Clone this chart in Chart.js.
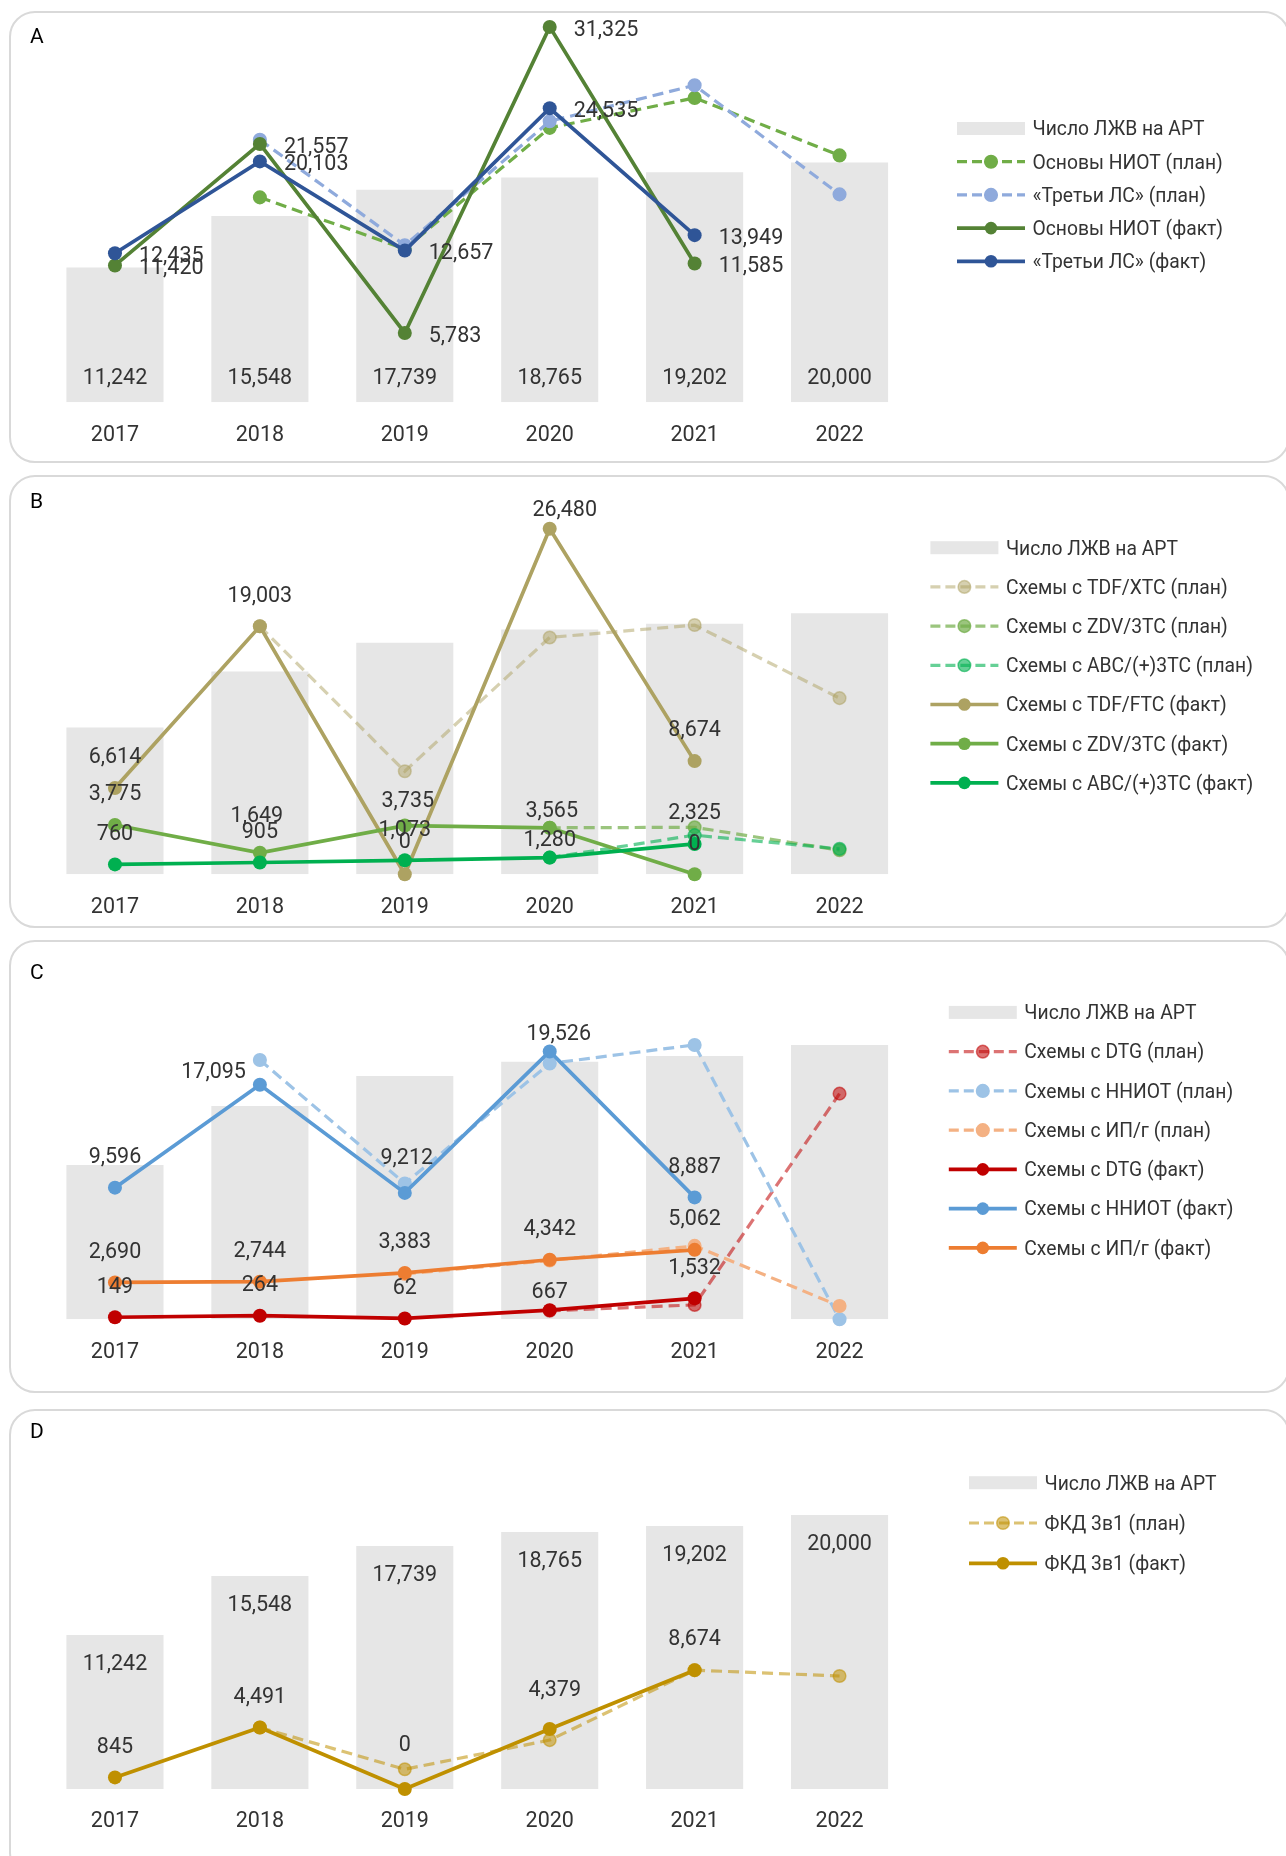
<!DOCTYPE html>
<html lang="ru">
<head>
<meta charset="utf-8">
<title>Число ЛЖВ на АРТ и схемы терапии, 2017–2022</title>
<script src="https://cdn.jsdelivr.net/npm/chart.js@4.4.1/dist/chart.umd.min.js"></script>
<style>
  html, body { margin: 0; padding: 0; background: #fff; width: 1286px; height: 1856px; overflow: hidden; }
  .panel { position: absolute; left: 9px; width: 1281px; border: 2px solid #D9D9D9; border-radius: 26px; box-sizing: border-box; background: #fff; }
  .tag { position: absolute; left: 30px; font: 21px Roboto, sans-serif; line-height: 21px; color: #000; }
  canvas { position: absolute; left: 0; }
</style>
</head>
<body>
<div class="panel" style="top:11px;height:452px"></div>
<div class="panel" style="top:475px;height:453px"></div>
<div class="panel" style="top:940px;height:453px"></div>
<div class="panel" style="top:1409px;height:470px"></div>
<canvas id="chartA"></canvas>
<canvas id="chartB"></canvas>
<canvas id="chartC"></canvas>
<canvas id="chartD"></canvas>
<div class="tag" style="top:26px">A</div>
<div class="tag" style="top:491px">B</div>
<div class="tag" style="top:962px">C</div>
<div class="tag" style="top:1421px">D</div>

<script>
// ---- data ----
const years = ['2017', '2018', '2019', '2020', '2021', '2022'];
const artPatients = [11242, 15548, 17739, 18765, 19202, 20000];

// A: base NRTI backbone and third drug
const niotPlan  = [null, 17100, 12800, 22900, 25400, 20600];
const thirdPlan = [null, 21900, 13100, 23450, 26450, 17350];
const niotFact  = [11420, 21557, 5783, 31325, 11585, null];
const thirdFact = [12435, 20103, 12657, 24535, 13949, null];

// B: backbone combinations
const tdfXtcPlan = [null, 19003, 7900, 18150, 19100, 13500];
const zdvPlan    = [null, null, null, 3565, 3600, 1850];
const abcPlan    = [null, null, null, 1280, 3000, 1950];
const tdfFtcFact = [6614, 19003, 0, 26480, 8674, null];
const zdvFact    = [3775, 1649, 3735, 3565, 0, null];
const abcFact    = [760, 905, 1073, 1280, 2325, null];

// C: third-drug classes
const dtgPlan   = [null, null, null, 620, 1050, 16450];
const nniotPlan = [null, 18900, 9900, 18650, 20000, 0];
const ipgPlan   = [null, null, 3300, 4290, 5350, 970];
const dtgFact   = [149, 264, 62, 667, 1532, null];
const nniotFact = [9596, 17095, 9212, 19526, 8887, null];
const ipgFact   = [2690, 2744, 3383, 4342, 5062, null];

// D: fixed-dose 3-in-1
const fkdPlan = [null, 4491, 1440, 3570, 8674, 8250];
const fkdFact = [845, 4491, 0, 4379, 8674, null];

// ---- styling helpers ----
const TEXT = '#333333';
const FONT = 'Roboto, "Noto Sans", sans-serif';
const LABEL_SIZE = 21.5;
const TEXT_SHIFT = 2;   // visual centring of digits with 'middle' baseline

function barSet(values) {
  return {
    type: 'bar', label: 'Число ЛЖВ на АРТ', data: values,
    backgroundColor: '#E6E6E6', borderWidth: 0,
    categoryPercentage: 0.67, barPercentage: 1, order: 1000
  };
}

function lineSet(values, label, color, plan, index, valueLabels) {
  return {
    type: 'line', label, data: values,
    borderColor: color, backgroundColor: color,
    borderWidth: plan ? 3.2 : 3.7,
    borderDash: plan ? [11, 6] : [],
    pointRadius: plan ? 6.3 : 7, pointHoverRadius: plan ? 6.3 : 7,
    pointBackgroundColor: color, pointBorderColor: color,
    pointBorderWidth: plan ? 1.5 : 0,
    tension: 0, spanGaps: false, clip: false,
    order: 100 - index,
    valueLabels
  };
}

// numbers next to the marks
const valueLabels = {
  id: 'valueLabels',
  afterDatasetsDraw(chart) {
    const ctx = chart.ctx;
    ctx.save();
    ctx.font = LABEL_SIZE + 'px ' + FONT;
    ctx.fillStyle = TEXT;
    ctx.textBaseline = 'middle';
    chart.data.datasets.forEach((ds, i) => {
      const spec = ds.valueLabels;
      if (!spec) return;
      chart.getDatasetMeta(i).data.forEach((el, j) => {
        const v = ds.data[j];
        if (v === null || v === undefined) return;
        const p = Object.assign({}, spec, spec.at && spec.at[j]);
        let x = el.x, y = el.y, align = 'center';
        if (p.pos === 'base') y = el.base - p.dist;
        else if (p.pos === 'end') y = el.y + p.dist;
        else if (p.pos === 'right') { x += p.dist; align = 'left'; }
        else if (p.pos === 'left') { x -= p.dist; align = 'right'; }
        else y -= p.dist;
        x += p.dx || 0;
        y += (p.dy || 0) + TEXT_SHIFT;
        ctx.textAlign = align;
        ctx.fillText(v.toLocaleString('en-US'), x, y);
      });
    });
    ctx.restore();
  }
};

// legend column on the right
const sideLegend = {
  id: 'sideLegend',
  afterDraw(chart, args, opts) {
    const ctx = chart.ctx;
    const sample = 68;
    ctx.save();
    ctx.textBaseline = 'middle';
    ctx.textAlign = 'left';
    chart.data.datasets.forEach((ds, i) => {
      const y = opts.y + i * opts.gap;
      const x0 = opts.x, x1 = opts.x + sample;
      if (ds.type === 'bar') {
        ctx.fillStyle = ds.backgroundColor;
        ctx.fillRect(x0, y - 6.5, sample, 13);
      } else {
        ctx.strokeStyle = ds.borderColor;
        ctx.lineWidth = ds.borderWidth;
        ctx.setLineDash(ds.borderDash.length ? [10, 5] : []);
        ctx.beginPath();
        ctx.moveTo(x0, y);
        ctx.lineTo(x1, y);
        ctx.stroke();
        ctx.setLineDash([]);
        ctx.beginPath();
        ctx.arc((x0 + x1) / 2, y, 6.3, 0, Math.PI * 2);
        ctx.fillStyle = ds.pointBackgroundColor;
        ctx.fill();
        if (ds.pointBorderWidth) {
          ctx.lineWidth = ds.pointBorderWidth;
          ctx.strokeStyle = ds.pointBorderColor;
          ctx.stroke();
        }
      }
      ctx.font = opts.fontSize + 'px ' + FONT;
      ctx.fillStyle = TEXT;
      ctx.fillText(ds.label, x1 + 7.5, y + TEXT_SHIFT);
    });
    ctx.restore();
  }
};

function panelChart(id, g, datasets) {
  const canvas = document.getElementById(id);
  canvas.width = 1286;
  canvas.height = g.height;
  canvas.style.top = g.top + 'px';
  const axisHeight = g.top + g.height - g.areaBottom;
  return new Chart(canvas, {
    data: { labels: years, datasets },
    plugins: [valueLabels, sideLegend],
    options: {
      responsive: false,
      animation: false,
      events: [],
      layout: { padding: { left: 42.5, right: 374, top: g.areaTop - g.top, bottom: 0 } },
      scales: {
        x: {
          grid: { display: false, drawTicks: false },
          border: { display: false },
          ticks: { color: TEXT, font: { family: FONT, size: LABEL_SIZE }, padding: 18.2 + TEXT_SHIFT, maxRotation: 0 },
          afterFit(scale) { scale.height = axisHeight; }
        },
        y: { display: false, min: 0, max: g.yMax }
      },
      plugins: {
        legend: { display: false },
        tooltip: { enabled: false },
        sideLegend: { x: g.legendX, y: g.legendY - g.top, gap: g.legendGap, fontSize: 19.3 }
      }
    }
  });
}

function build() {
  // A
  panelChart('chartA',
    { top: 11, height: 452, areaTop: 18.3, areaBottom: 402.3, yMax: 32000, legendX: 957, legendY: 128.5, legendGap: 33.2 },
    [
      Object.assign(barSet(artPatients), { valueLabels: { pos: 'base', dist: 25.6 } }),
      lineSet(niotPlan, 'Основы НИОТ (план)', '#70AD47', true, 1),
      lineSet(thirdPlan, '«Третьи ЛС» (план)', '#8FAADC', true, 2),
      lineSet(niotFact, 'Основы НИОТ (факт)', '#548235', false, 3, { pos: 'right', dist: 24, dy: 1.5 }),
      lineSet(thirdFact, '«Третьи ЛС» (факт)', '#2F5597', false, 4, { pos: 'right', dist: 24, dy: 1 })
    ]);

  // B
  panelChart('chartB',
    { top: 475, height: 453, areaTop: 482.2, areaBottom: 874.3, yMax: 30000, legendX: 930.4, legendY: 547.7, legendGap: 39.2 },
    [
      barSet(artPatients),
      lineSet(tdfXtcPlan, 'Схемы с TDF/XTC (план)', 'rgba(173,162,98,0.5)', true, 1),
      lineSet(zdvPlan, 'Схемы с ZDV/3TC (план)', 'rgba(112,173,71,0.7)', true, 2),
      lineSet(abcPlan, 'Схемы с ABC/(+)3TC (план)', 'rgba(0,176,80,0.6)', true, 3),
      lineSet(tdfFtcFact, 'Схемы с TDF/FTC (факт)', '#ADA262', false, 4,
        { pos: 'above', dist: 32, at: { 2: { dist: 34 }, 3: { dist: 20, dx: 15 } } }),
      lineSet(zdvFact, 'Схемы с ZDV/3TC (факт)', '#70AD47', false, 5,
        { pos: 'above', dist: 32, at: { 1: { dist: 38, dx: -3 }, 2: { dist: 26, dx: 3 }, 3: { dist: 18.5, dx: 2 } } }),
      lineSet(abcFact, 'Схемы с ABC/(+)3TC (факт)', '#00B050', false, 6,
        { pos: 'above', dist: 32, at: { 3: { dist: 18.5 } } })
    ]);

  // C
  panelChart('chartC',
    { top: 940, height: 453, areaTop: 948.9, areaBottom: 1319.3, yMax: 27000, legendX: 948.8, legendY: 1012.4, legendGap: 39.25 },
    [
      barSet(artPatients),
      lineSet(dtgPlan, 'Схемы с DTG (план)', 'rgba(192,0,0,0.55)', true, 1),
      lineSet(nniotPlan, 'Схемы с ННИОТ (план)', '#9DC3E6', true, 2),
      lineSet(ipgPlan, 'Схемы с ИП/г (план)', '#F4B183', true, 3),
      lineSet(dtgFact, 'Схемы с DTG (факт)', '#C00000', false, 4,
        { pos: 'above', dist: 32, at: { 3: { dist: 20 } } }),
      lineSet(nniotFact, 'Схемы с ННИОТ (факт)', '#5B9BD5', false, 5,
        { pos: 'above', dist: 32, at: { 1: { pos: 'left', dist: 14, dy: -14 }, 2: { dist: 36, dx: 2 }, 3: { dist: 18.5, dx: 9 } } }),
      lineSet(ipgFact, 'Схемы с ИП/г (факт)', '#ED7D31', false, 6, { pos: 'above', dist: 32 })
    ]);

  // D
  panelChart('chartD',
    { top: 1409, height: 447, areaTop: 1419.1, areaBottom: 1789, yMax: 27000, legendX: 969, legendY: 1482.7, legendGap: 40.3 },
    [
      Object.assign(barSet(artPatients), { valueLabels: { pos: 'end', dist: 28 } }),
      lineSet(fkdPlan, 'ФКД 3в1 (план)', 'rgba(191,144,0,0.55)', true, 1),
      lineSet(fkdFact, 'ФКД 3в1 (факт)', '#BF9000', false, 2,
        { pos: 'above', dist: 32, at: { 2: { dist: 45.5 }, 3: { dist: 40.5, dx: 5 }, 4: { dist: 33 } } })
    ]);
}

if (document.fonts && document.fonts.load) {
  Promise.all([document.fonts.load('21px Roboto'), document.fonts.load('19.3px Roboto')]).then(build, build);
} else {
  build();
}
</script>
</body>
</html>
